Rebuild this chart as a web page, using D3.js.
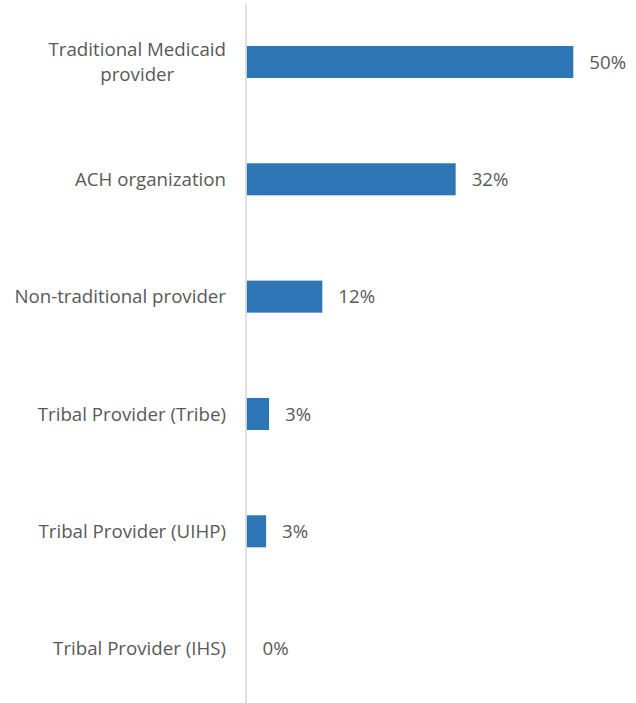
<!DOCTYPE html>
<html>
<head>
<meta charset="utf-8">
<script src="https://cdn.jsdelivr.net/npm/d3@7"></script>
<style>
  body { margin: 0; background: #fff; }
  text { font-family: "Open Sans", sans-serif; fill: #595959; }
</style>
</head>
<body>
<svg id="chart" width="636" height="703"></svg>
<script>
// categories, top to bottom
var categories = [
    "Traditional Medicaid provider",
    "ACH organization",
    "Non-traditional provider",
    "Tribal Provider (Tribe)",
    "Tribal Provider (UIHP)",
    "Tribal Provider (IHS)"
];
// how labels wrap on the axis
var categoryLines = [
    ["Traditional Medicaid", "provider"],
    ["ACH organization"],
    ["Non-traditional provider"],
    ["Tribal Provider (Tribe)"],
    ["Tribal Provider (UIHP)"],
    ["Tribal Provider (IHS)"]
];
// share of respondents, percent
var values = [50, 32, 11.6, 3.45, 3.0, 0];

var svg = d3.select("#chart");
var fontSize = 18.7;

var x = d3.scaleLinear()
    .domain([0, 50])
    .range([246.5, 573.3]);

var y = d3.scaleBand()
    .domain(categories)
    .range([3.3, 707.3])
    .paddingInner(0.727)
    .paddingOuter(0.3635);

var data = categories.map(function(c, i) {
    return {name: c, lines: categoryLines[i], value: values[i]};
});

// bars
svg.selectAll(".bar")
    .data(data)
    .enter().append("rect")
    .attr("class", "bar")
    .attr("x", x(0))
    .attr("y", function(d) { return y(d.name); })
    .attr("width", function(d) { return x(d.value) - x(0); })
    .attr("height", y.bandwidth())
    .attr("fill", "#2e75b6");

// vertical axis line
svg.append("line")
    .attr("x1", 246)
    .attr("x2", 246)
    .attr("y1", 3.5)
    .attr("y2", 703)
    .attr("stroke", "#d9d9d9")
    .attr("stroke-width", 1.6);

// category labels, right aligned block, centred lines
var labels = svg.selectAll(".cat")
    .data(data)
    .enter().append("g")
    .attr("class", "cat")
    .attr("transform", function(d) {
        return "translate(0," + (y(d.name) + y.bandwidth() / 2) + ")";
    });

labels.each(function(d) {
    var g = d3.select(this);
    var lineH = 25;
    var t = g.selectAll("text")
        .data(d.lines)
        .enter().append("text")
        .attr("text-anchor", "middle")
        .attr("font-size", fontSize)
        .attr("dy", "0.35em")
        .attr("y", function(l, i) { return (i - (d.lines.length - 1) / 2) * lineH; })
        .text(function(l) { return l; });
    // widest line decides the block's centre
    var w = d3.max(t.nodes(), function(n) { return n.getComputedTextLength(); });
    t.attr("x", 226 - w / 2);
});

// value labels
var fmt = d3.format(".0f");
svg.selectAll(".val")
    .data(data)
    .enter().append("text")
    .attr("class", "val")
    .attr("x", function(d) { return x(d.value) + 16; })
    .attr("y", function(d) { return y(d.name) + y.bandwidth() / 2; })
    .attr("dy", "0.35em")
    .attr("font-size", fontSize)
    .text(function(d) { return fmt(d.value) + "%"; });
</script>
</body>
</html>
